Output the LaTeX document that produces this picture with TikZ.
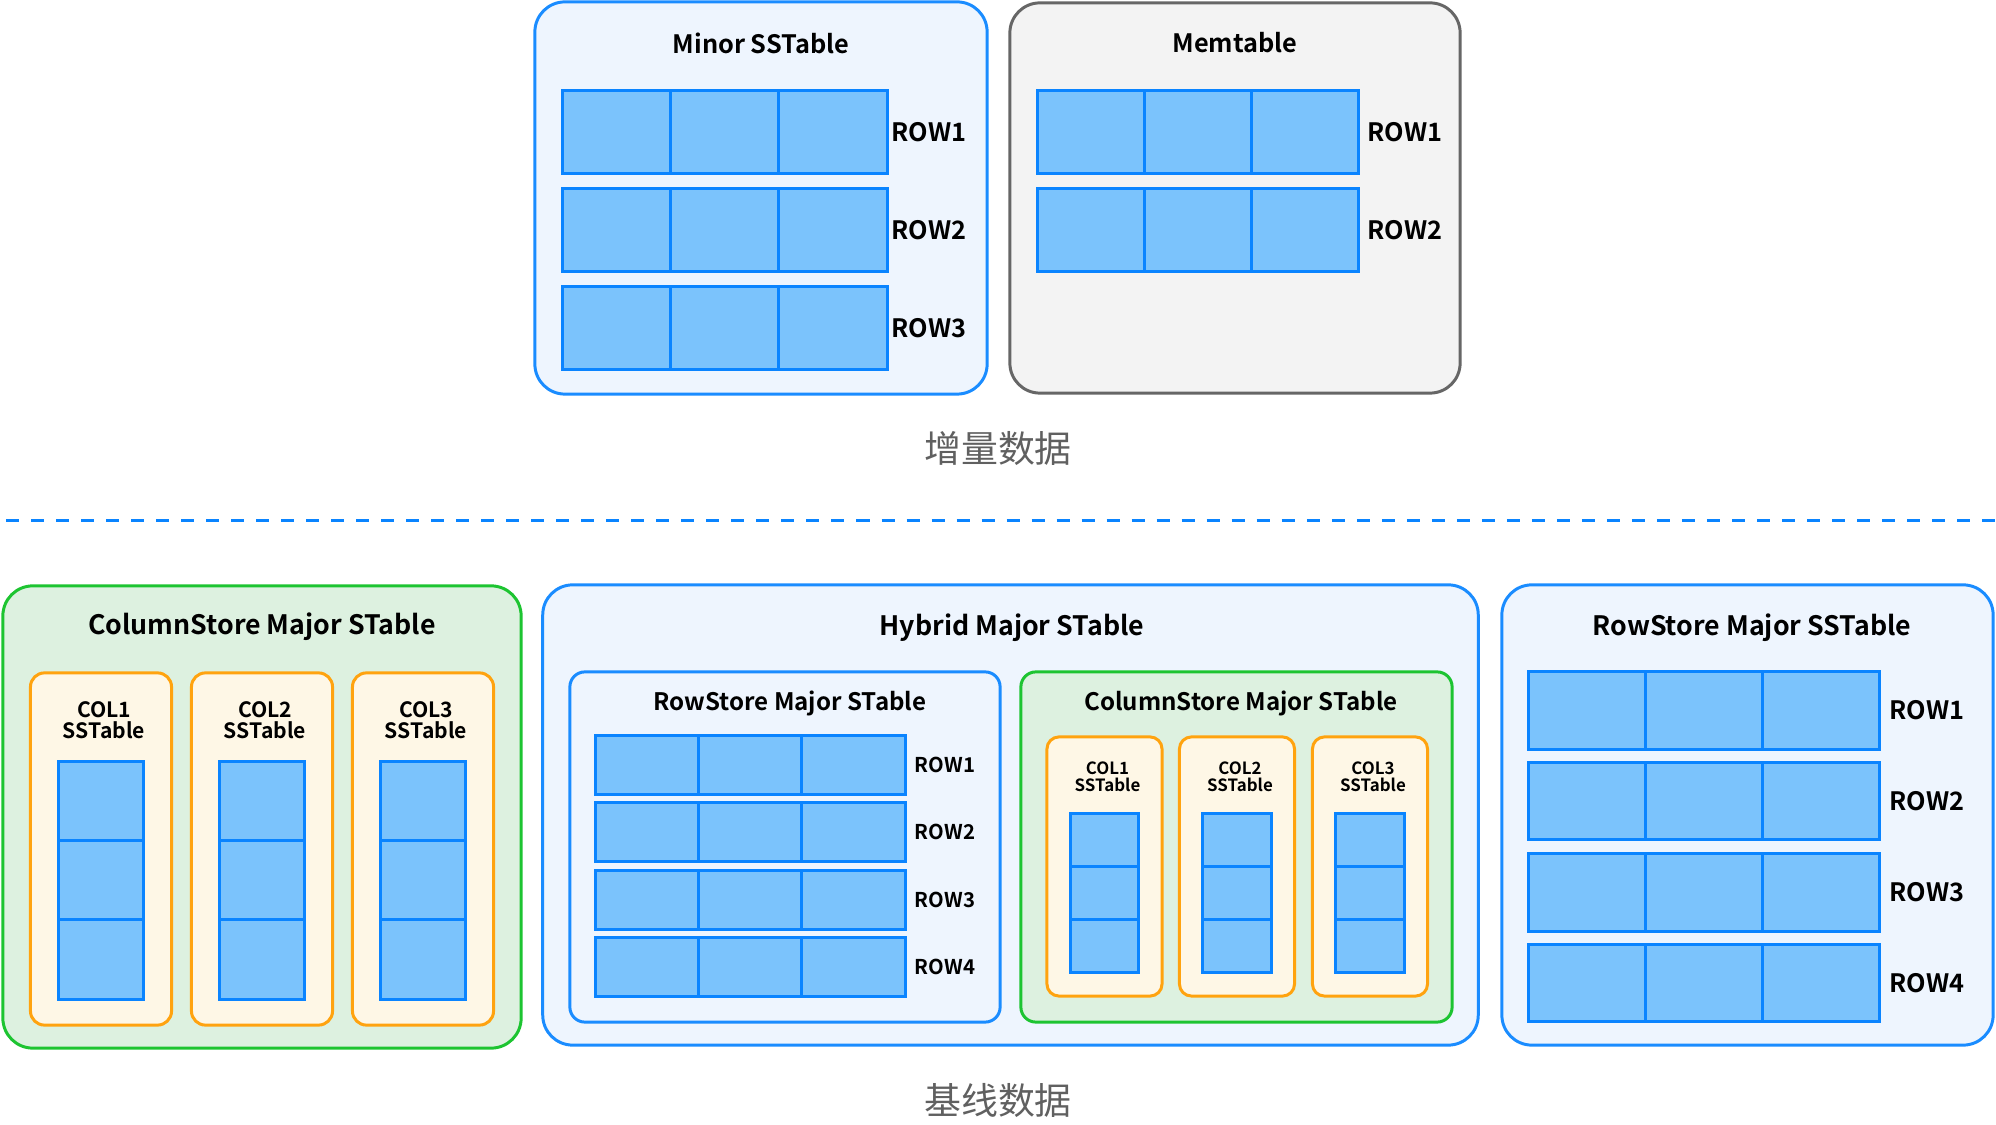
\documentclass[tikz,border=0pt]{standalone}
\usepackage{fontspec}
\setmainfont{Noto Sans CJK SC}[BoldFont={Noto Sans CJK SC Bold}]
\newfontfamily\cjk{Noto Sans CJK SC}
\usetikzlibrary{positioning}

\definecolor{bStroke}{HTML}{1A8CFF}
\definecolor{bFill}{HTML}{EEF5FE}
\definecolor{cFill}{HTML}{7BC3FC}
\definecolor{cStroke}{HTML}{0A84FF}
\definecolor{gStroke}{HTML}{1DC431}
\definecolor{gFill}{HTML}{DDF1E0}
\definecolor{oStroke}{HTML}{FFA30F}
\definecolor{oFill}{HTML}{FEF7E6}
\definecolor{kStroke}{HTML}{666666}
\definecolor{kFill}{HTML}{F3F3F3}
\definecolor{zhGray}{HTML}{606060}

\begin{document}
\begin{tikzpicture}[
    x=0.01cm, y=-0.01cm,
    font=\bfseries\fontsize{7}{8}\selectfont,
    bluebox/.style={draw=bStroke, fill=bFill, line width=0.85pt, rounded corners=3mm, inner sep=0},
    graybox/.style={draw=kStroke, fill=kFill, line width=0.85pt, rounded corners=3mm, inner sep=0},
    greenbox/.style={draw=gStroke, fill=gFill, line width=0.85pt, rounded corners=3mm, inner sep=0},
    orangebox/.style={draw=oStroke, fill=oFill, line width=0.85pt, rounded corners=1.4mm, inner sep=0},
    cell/.style={draw=cStroke, fill=cFill, line width=0.85pt, inner sep=0},
    ttl/.style={font=\bfseries\fontsize{7.2}{8}\selectfont},
    bigttl/.style={font=\bfseries\fontsize{7.6}{8}\selectfont},
    subttl/.style={font=\bfseries\fontsize{6.85}{7}\selectfont},
    rowlbl/.style={font=\bfseries\fontsize{7.2}{8}\selectfont},
    smallrow/.style={font=\bfseries\fontsize{5.8}{7}\selectfont},
    collbl/.style={font=\bfseries\fontsize{6}{6.1}\selectfont, align=center},
    smallcol/.style={font=\bfseries\fontsize{4.8}{4.9}\selectfont, align=center},
    zh/.style={font=\cjk\mdseries\fontsize{10.5}{12}\selectfont, text=zhGray},
]
\useasboundingbox (0,0) rectangle (1996,1125);

% ===== TOP: incremental data =====
\node[bluebox, minimum width=4.52cm, minimum height=3.92cm] (minor) at (761,198) {};
\node[ttl] (minorT) at (761,43) {Minor SSTable};
\foreach \r/\y in {1/132, 2/230, 3/328} {
    \foreach \c/\x in {1/617, 2/725, 3/833} {
        \node[cell, minimum width=1.08cm, minimum height=0.82cm] (mi-\r-\c) at (\x,\y) {};
    }
    \node[rowlbl] (mi-l\r) at (929,\y) {ROW\r};
}

\node[graybox, minimum width=4.50cm, minimum height=3.90cm] (mem) at (1235,198) {};
\node[ttl] (memT) at (1235,43) {Memtable};
\foreach \r/\y in {1/132, 2/230} {
    \foreach \c/\x in {1/1091, 2/1198, 3/1305} {
        \node[cell, minimum width=1.07cm, minimum height=0.82cm] (me-\r-\c) at (\x,\y) {};
    }
    \node[rowlbl] (me-l\r) at (1405,\y) {ROW\r};
}

\node[zh] (incr) at (998,448) {增量数据};

% separator
\coordinate (sepL) at (6,521);
\coordinate (sepR) at (1996,521);
\draw[draw=cStroke, line width=0.85pt, dash pattern=on 0.13cm off 0.12cm] (sepL) -- (sepR);

% ===== BOTTOM: baseline data =====
% ColumnStore Major STable
\node[greenbox, minimum width=5.18cm, minimum height=4.62cm] (cs) at (262,817) {};
\node[bigttl] (csT) at (262,627) {ColumnStore Major STable};
\foreach \c/\x in {1/101, 2/262, 3/423} {
    \node[orangebox, minimum width=1.41cm, minimum height=3.52cm] (cs-o\c) at (\x,849) {};
    \node[collbl] (cs-t\c) at (\x+3,720) {COL\c\\SSTable};
    \foreach \r/\y in {1/801.5, 2/880.5, 3/959.5} {
        \node[cell, minimum width=0.84cm, minimum height=0.79cm] (cs-\c-\r) at (\x,\y) {};
    }
}

% Hybrid Major STable
\node[bluebox, minimum width=9.35cm, minimum height=4.60cm] (hy) at (1010.5,815) {};
\node[bigttl] (hyT) at (1012,628) {Hybrid Major STable};

\node[bluebox, rounded corners=1.5mm, minimum width=4.30cm, minimum height=3.50cm] (hr) at (785,847) {};
\node[subttl] (hrT) at (790,703) {RowStore Major STable};
\foreach \r/\y in {1/765, 2/832, 3/900, 4/967} {
    \foreach \c/\x in {1/647, 2/750.5, 3/853.5} {
        \node[cell, minimum width=1.03cm, minimum height=0.58cm] (hr-\r-\c) at (\x,\y) {};
    }
    \node[smallrow] (hr-l\r) at (945,\y) {ROW\r};
}

\node[greenbox, rounded corners=1.5mm, minimum width=4.31cm, minimum height=3.50cm] (hc) at (1236.5,847) {};
\node[subttl] (hcT) at (1241,703) {ColumnStore Major STable};
\foreach \c/\x in {1/1104.5, 2/1237, 3/1370} {
    \node[orangebox, rounded corners=1.2mm, minimum width=1.15cm, minimum height=2.59cm] (hc-o\c) at (\x,866.5) {};
    \node[smallcol] (hc-t\c) at (\x+3,777) {COL\c\\SSTable};
    \foreach \r/\y in {1/839.7, 2/893, 3/946.3} {
        \node[cell, minimum width=0.68cm, minimum height=0.533cm] (hc-\c-\r) at (\x,\y) {};
    }
}

% RowStore Major SSTable
\node[bluebox, minimum width=4.91cm, minimum height=4.60cm] (rs) at (1747.5,815) {};
\node[bigttl] (rsT) at (1752,628) {RowStore Major SSTable};
\foreach \r/\y in {1/710.5, 2/801, 3/892.5, 4/983} {
    \foreach \c/\x in {1/1587.5, 2/1704, 3/1821} {
        \node[cell, minimum width=1.17cm, minimum height=0.77cm] (rs-\r-\c) at (\x,\y) {};
    }
    \node[rowlbl] (rs-l\r) at (1927,\y) {ROW\r};
}

\node[zh] (base) at (998,1100) {基线数据};

\end{tikzpicture}
\end{document}
